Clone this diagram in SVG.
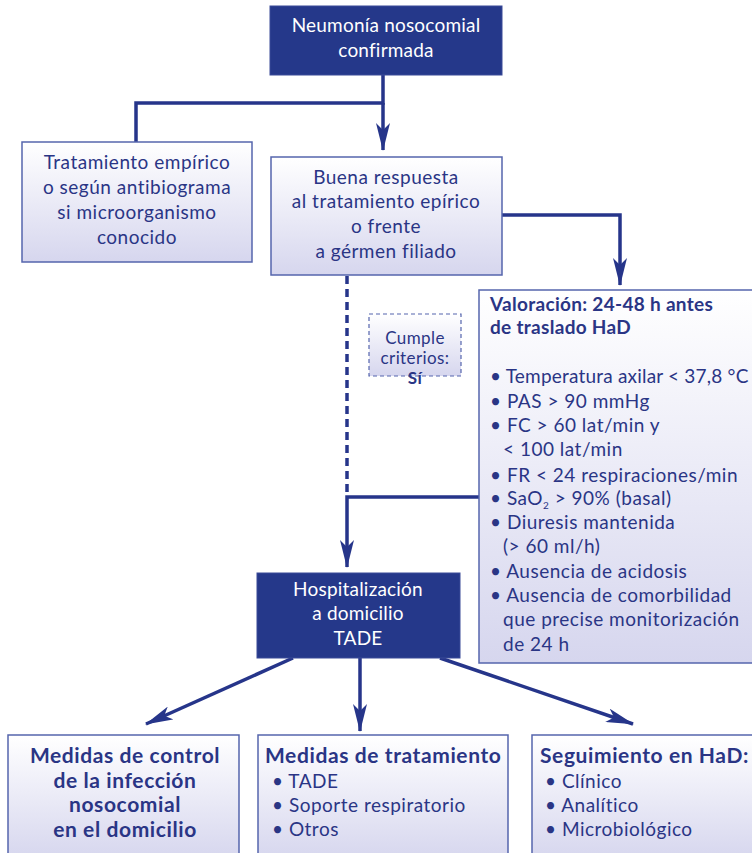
<svg xmlns="http://www.w3.org/2000/svg" width="752" height="853" viewBox="0 0 752 853">
<defs>
<linearGradient id="lg" x1="0" y1="0" x2="0" y2="1">
<stop offset="0" stop-color="#ffffff"/>
<stop offset="1" stop-color="#d6d6ee"/>
</linearGradient>
<marker id="ah" viewBox="0 0 28 14" refX="27" refY="7" markerWidth="28" markerHeight="14" markerUnits="userSpaceOnUse" orient="auto">
<path d="M0,0 L28,7 L0,14 L7,7 Z" fill="#26358a"/>
</marker>
<style>
.dark{fill:#25388a;stroke:#3a4a98;stroke-width:1}
.light{fill:url(#lg);stroke:#5565ad;stroke-width:1.5}
.dash{fill:url(#lg);stroke:#5565ad;stroke-width:1.2;stroke-dasharray:4 3}
text{font-family:Lato,"Open Sans","Liberation Sans",sans-serif;font-size:19px;letter-spacing:0.5px}
.w{fill:#ffffff;text-anchor:middle;letter-spacing:0.2px}
.b{fill:#2a3585}
.c{fill:#2a3585;text-anchor:middle}
.bold{font-weight:bold}
.big{font-size:21px;letter-spacing:0.6px}
.val{font-size:19px;letter-spacing:0.3px}
.tight{letter-spacing:0.2px}
text.cu{font-size:17px;letter-spacing:0.4px}
.ln{fill:none;stroke:#26358a;stroke-width:3.5}
.dl{fill:none;stroke:#26358a;stroke-width:3.5;stroke-dasharray:8 5}
</style>
</defs>
<g id="connectors">
<path class="ln" d="M383,75 V103 H136 V142"/>
<path class="ln" d="M383,103 V150" marker-end="url(#ah)"/>
<path class="ln" d="M502,215 H620 V285" marker-end="url(#ah)"/>
<path class="dl" d="M347,276 V497"/>
<path class="ln" d="M479,497 H347 V567" marker-end="url(#ah)"/>
<path class="ln" d="M293,658 L146,724" marker-end="url(#ah)"/>
<path class="ln" d="M360,658 V731" marker-end="url(#ah)"/>
<path class="ln" d="M440,658 L633,724" marker-end="url(#ah)"/>
</g>
<g id="n1">
<rect class="dark" x="270" y="6" width="232" height="69"/>
<text class="w" x="386" y="32">Neumonía nosocomial</text>
<text class="w" x="386" y="57">confirmada</text>
</g>
<g id="n2">
<rect class="light" x="22" y="142" width="230" height="120"/>
<text class="c" x="137" y="169">Tratamiento empírico</text>
<text class="c" x="137" y="194">o según antibiograma</text>
<text class="c" x="137" y="219">si microorganismo</text>
<text class="c" x="137" y="244">conocido</text>
</g>
<g id="n3">
<rect class="light" x="271" y="157" width="231" height="118"/>
<text class="c" x="386" y="184">Buena respuesta</text>
<text class="c" x="386" y="208">al tratamiento epírico</text>
<text class="c" x="386" y="233">o frente</text>
<text class="c" x="386" y="258">a gérmen filiado</text>
</g>
<g id="n4">
<rect class="dash" x="369" y="314" width="92" height="62"/>
<text class="c cu" x="415" y="344">Cumple</text>
<text class="c cu" x="415" y="364">criterios:</text>
<text class="c cu bold" x="415" y="384">Sí</text>
</g>
<g id="n5">
<rect class="light" x="479" y="290" width="280" height="373"/>
<text class="b bold val" x="490" y="311">Valoración: 24-48 h antes</text>
<text class="b bold val" x="490" y="334">de traslado HaD</text>
<text class="b tight" x="490" y="383">• Temperatura axilar &lt; 37,8 °C</text>
<text class="b" x="490" y="408">• PAS &gt; 90 mmHg</text>
<text class="b" x="490" y="432">• FC &gt; 60 lat/min y</text>
<text class="b" x="503" y="456">&lt; 100 lat/min</text>
<text class="b" x="490" y="482">• FR &lt; 24 respiraciones/min</text>
<text class="b" x="490" y="505">• SaO<tspan font-size="10" dy="4">2</tspan><tspan dy="-4"> &gt; 90% (basal)</tspan></text>
<text class="b" x="490" y="529">• Diuresis mantenida</text>
<text class="b" x="503" y="553">(&gt; 60 ml/h)</text>
<text class="b" x="490" y="578">• Ausencia de acidosis</text>
<text class="b" x="490" y="602">• Ausencia de comorbilidad</text>
<text class="b" x="503" y="626">que precise monitorización</text>
<text class="b" x="503" y="651">de 24 h</text>
</g>
<g id="n6">
<rect class="dark" x="257" y="573" width="203" height="85"/>
<text class="w" x="358" y="596">Hospitalización</text>
<text class="w" x="358" y="620">a domicilio</text>
<text class="w" x="358" y="645">TADE</text>
</g>
<g id="n7">
<rect class="light" x="8" y="735" width="231" height="125"/>
<text class="c bold big" x="125" y="763">Medidas de control</text>
<text class="c bold big" x="125" y="788">de la infección</text>
<text class="c bold big" x="125" y="812">nosocomial</text>
<text class="c bold big" x="125" y="837">en el domicilio</text>
</g>
<g id="n8">
<rect class="light" x="258" y="735" width="250" height="125"/>
<text class="b bold big" x="265" y="763">Medidas de tratamiento</text>
<text class="b" x="272" y="788">• TADE</text>
<text class="b" x="272" y="812">• Soporte respiratorio</text>
<text class="b" x="272" y="836">• Otros</text>
</g>
<g id="n9">
<rect class="light" x="532" y="735" width="230" height="125"/>
<text class="b bold big" x="540" y="763">Seguimiento en HaD:</text>
<text class="b" x="545" y="788">• Clínico</text>
<text class="b" x="545" y="812">• Analítico</text>
<text class="b" x="545" y="836">• Microbiológico</text>
</g>
</svg>
